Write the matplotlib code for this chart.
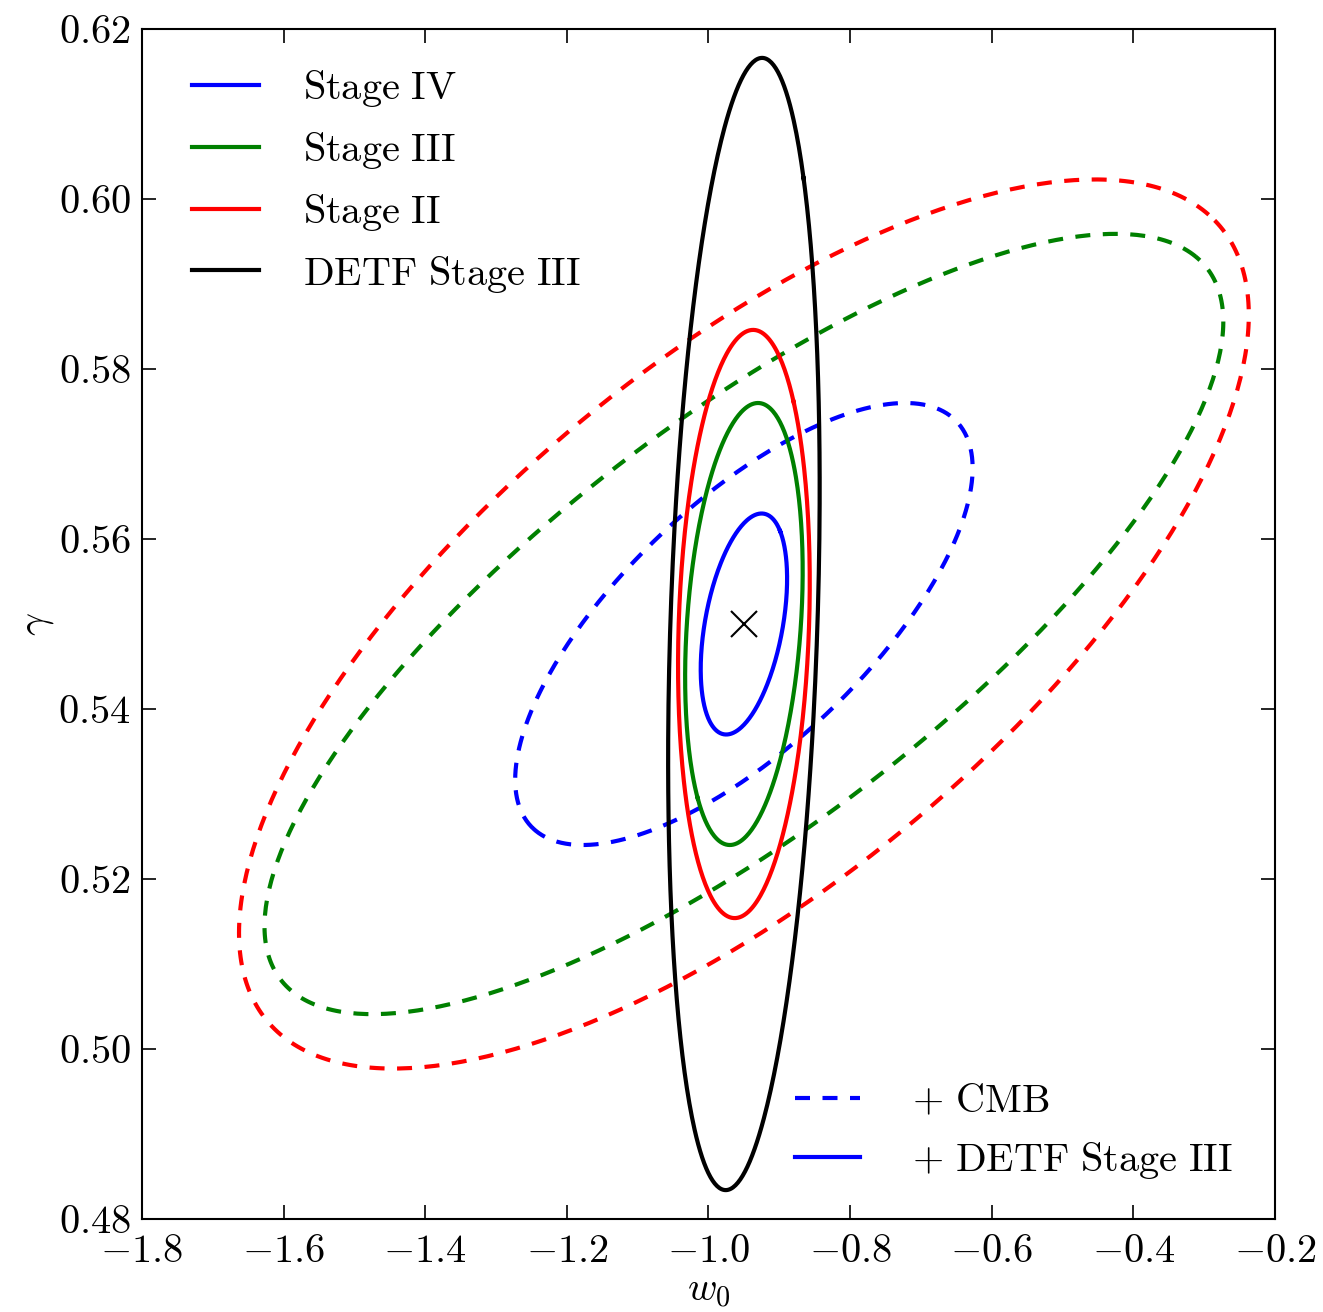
import numpy as np
import matplotlib
matplotlib.use("Agg")
import matplotlib.pyplot as plt
from matplotlib.lines import Line2D

plt.rcParams['font.family'] = 'serif'
plt.rcParams['font.serif'] = ['cmr10']
plt.rcParams['mathtext.fontset'] = 'cm'
plt.rcParams['axes.formatter.use_mathtext'] = True
plt.rcParams['axes.unicode_minus'] = True

# fiducial model
w0_fid = -0.95
gamma_fid = 0.55

# contour half-extents along w0 and gamma, plus correlation coefficient
names = ['Stage IV + CMB', 'Stage III + CMB', 'Stage II + CMB',
         'Stage IV + DETF', 'Stage III + DETF', 'Stage II + DETF', 'DETF Stage III']
half_w0 = [0.323, 0.677, 0.713, 0.061, 0.083, 0.093, 0.107]
half_gamma = [0.026, 0.0459, 0.0523, 0.013, 0.026, 0.0346, 0.0666]
corr = [0.705, 0.775, 0.695, 0.41, 0.24, 0.14, 0.24]
colors = ['b', 'g', 'r', 'b', 'g', 'r', 'k']
styles = ['--', '--', '--', '-', '-', '-', '-']

legend1_labels = ['Stage IV', 'Stage III', 'Stage II', 'DETF Stage III']
legend1_colors = ['b', 'g', 'r', 'k']
legend2_labels = ['+ CMB', '+ DETF Stage III']
legend2_styles = ['--', '-']

LW = 3.0
FS = 29
DASH = (3.6, 3.0)

fig = plt.figure(figsize=(13.23, 13.12), dpi=100)
ax = fig.add_axes([142 / 1323, 1 - 1219 / 1312, 1133 / 1323, 1190 / 1312])


def add_ellipse(ax, hx, hy, rho, color, ls):
    # ellipse from covariance built out of the half-extents
    cov = np.array([[hx ** 2, rho * hx * hy], [rho * hx * hy, hy ** 2]])
    # work in scaled units so the angle is computed in a square frame
    s = hx / hy
    cov_s = cov / np.array([[s * s, s], [s, 1.0]])
    vals, vecs = np.linalg.eigh(cov_s)
    order = vals.argsort()[::-1]
    vals, vecs = vals[order], vecs[:, order]
    t = np.linspace(0, 2 * np.pi, 400)
    pts = (vecs @ np.vstack([np.sqrt(vals[0]) * np.cos(t),
                             np.sqrt(vals[1]) * np.sin(t)]))
    x = w0_fid + pts[0] * s
    y = gamma_fid + pts[1]
    line, = ax.plot(x, y, color=color, ls=ls, lw=LW)
    if ls == '--':
        line.set_dashes(DASH)


for hx, hy, rho, c, ls in zip(half_w0, half_gamma, corr, colors, styles):
    add_ellipse(ax, hx, hy, rho, c, ls)

ax.plot(w0_fid, gamma_fid, 'kx', ms=19, mew=1.5)

ax.set_xlim(-1.8, -0.2)
ax.set_ylim(0.48, 0.62)
ax.set_xticks(np.arange(-1.8, -0.19, 0.2))
ax.set_yticks(np.arange(0.48, 0.621, 0.02))
ax.xaxis.set_major_formatter(plt.FuncFormatter(lambda v, p: r'$%.1f$' % v))
ax.yaxis.set_major_formatter(plt.FuncFormatter(lambda v, p: r'$%.2f$' % v))
ax.tick_params(direction='in', length=10, width=1.2, labelsize=FS, pad=8,
               top=True, right=True)
ax.tick_params(axis='x', pad=11)
for sp in ax.spines.values():
    sp.set_linewidth(1.5)

ax.set_xlabel(r'$w_0$', fontsize=FS, labelpad=3)
ax.set_ylabel(r'$\gamma$', fontsize=FS, labelpad=2)

h1 = [Line2D([], [], color=c, lw=LW) for c in legend1_colors]
leg1 = ax.legend(h1, [r'$\mathrm{%s}$' % l.replace(' ', r'\ ') for l in legend1_labels],
                 loc='upper left', bbox_to_anchor=(0.030, 0.981), borderaxespad=0,
                 frameon=False, fontsize=FS, handlelength=1.65,
                 handletextpad=1.1, labelspacing=0.52)
ax.add_artist(leg1)

h2 = []
for s in legend2_styles:
    ln = Line2D([], [], color='b', lw=LW, ls=s)
    if s == '--':
        ln.set_dashes(DASH)
    h2.append(ln)
ax.legend(h2, [r'$+\ \mathrm{CMB}$', r'$+\ \mathrm{DETF\ Stage\ III}$'],
          loc='lower right', bbox_to_anchor=(0.977, 0.018), borderaxespad=0,
          frameon=False, fontsize=FS, handlelength=1.6,
          handletextpad=1.3, labelspacing=0.5)

fig.savefig('out.png', dpi=100)
